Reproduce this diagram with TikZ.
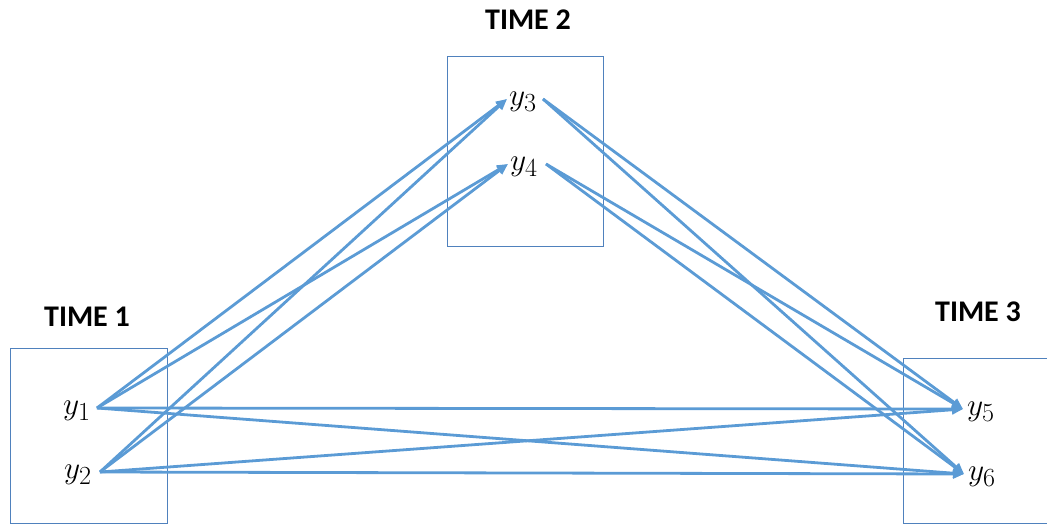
\documentclass[tikz,border=0pt]{standalone}
\usepackage{fontspec}
\setsansfont{Carlito}
\usetikzlibrary{arrows.meta}
\definecolor{arrowblue}{RGB}{91,155,213}
\definecolor{boxblue}{RGB}{79,129,189}
\newcommand{\yvar}[1]{\scalebox{1.26}{$y_{#1}$}}
\begin{document}
\begin{tikzpicture}[x=1pt,y=-1pt,
  timebox/.style={draw=boxblue,line width=0.9pt},
  timelabel/.style={font=\sffamily\bfseries\fontsize{30}{34}\selectfont,inner sep=0pt},
  var/.style={font=\fontsize{24.88}{30}\selectfont,inner ysep=0pt,inner xsep=0pt},
  link/.style={draw=arrowblue,line width=2.8pt,-{Triangle[length=11pt,width=9pt]}}
]
\useasboundingbox (0,0) rectangle (1047,525);
\clip (0,0) rectangle (1047,525);
% boxes
\draw[timebox] (10,348) rectangle (167,523);
\draw[timebox] (447,56) rectangle (603,246);
\draw[timebox] (903,358) rectangle (1050,523);
% labels
\node[timelabel] (t1) at (87,317) {TIME 1};
\node[timelabel] (t2) at (528,20) {TIME 2};
\node[timelabel] (t3) at (978,312) {TIME 3};
% variables
\node[var] (y1) at (77,411) {\yvar{1}};
\node[var] (y2) at (78,475) {\yvar{2}};
\node[var] (y3) at (523,102) {\yvar{3}};
\node[var] (y4) at (524,167) {\yvar{4}};
\node[var] (y5) at (981,412) {\yvar{5}};
\node[var] (y6) at (982,477) {\yvar{6}};
% anchor points
\coordinate (o1) at ([xshift=6pt,yshift=3pt]y1.east);
\coordinate (o2) at ([xshift=8pt,yshift=3pt]y2.east);
\coordinate (i3) at ([xshift=-2pt,yshift=3pt]y3.west);
\coordinate (o3) at ([xshift=6pt,yshift=3pt]y3.east);
\coordinate (i4) at ([xshift=-2pt,yshift=3pt]y4.west);
\coordinate (o4) at ([xshift=8pt,yshift=3pt]y4.east);
\coordinate (i5) at ([xshift=-4pt,yshift=3pt]y5.west);
\coordinate (i6) at ([xshift=-4pt,yshift=3pt]y6.west);
% connectors
\foreach \s in {o1,o2}{
  \foreach \t in {i3,i4,i5,i6}{
    \draw[link] (\s) -- (\t);
  }
}
\foreach \s in {o3,o4}{
  \foreach \t in {i5,i6}{
    \draw[link] (\s) -- (\t);
  }
}
\end{tikzpicture}
\end{document}
